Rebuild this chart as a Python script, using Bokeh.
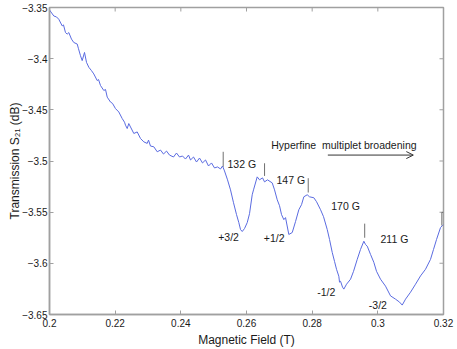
from bokeh.plotting import figure
from bokeh.models import Range1d, FixedTicker, Arrow, OpenHead, ColumnDataSource
from bokeh.core.properties import value
from bokeh.embed import file_html
from bokeh.resources import INLINE

# ---- data: measured transmission vs magnetic field ----
field_T = [0.2000, 0.20131, 0.20213, 0.20283, 0.20387, 0.20426, 0.20487, 0.20539, 0.20588, 0.20670,
           0.20740, 0.20844, 0.20883, 0.20944, 0.20996, 0.21066, 0.21127, 0.21197, 0.21279, 0.21349,
           0.21453, 0.21493, 0.21553, 0.21654, 0.21706, 0.21758, 0.21858, 0.21919, 0.22010, 0.22111,
           0.22214, 0.22285, 0.22315, 0.22367, 0.22415, 0.22467, 0.22568, 0.22671, 0.22772, 0.22872,
           0.22976, 0.23016, 0.23076, 0.23177, 0.23281, 0.23381, 0.23472, 0.23564, 0.23655, 0.23777,
           0.23868, 0.23960, 0.24051, 0.24142, 0.24234, 0.24295, 0.24386, 0.24478, 0.24569, 0.24660,
           0.24752, 0.24843, 0.24934, 0.25026, 0.25117, 0.25209, 0.25270, 0.25330, 0.25422, 0.25513,
           0.25605, 0.25696, 0.25766, 0.25818, 0.25870, 0.25940, 0.26022, 0.26092, 0.26174, 0.26214,
           0.26326, 0.26396, 0.26488, 0.26549, 0.26640, 0.26783, 0.26854, 0.26936, 0.27006, 0.27067,
           0.27137, 0.27189, 0.27289, 0.27393, 0.27493, 0.27594, 0.27676, 0.27746, 0.27849, 0.27920,
           0.28051, 0.28133, 0.28255, 0.28346, 0.28459, 0.28529, 0.28611, 0.28681, 0.28742, 0.28812,
           0.28833, 0.28864, 0.28925, 0.28964, 0.29047, 0.29169, 0.29260, 0.29373, 0.29473, 0.29574,
           0.29625, 0.29677, 0.29778, 0.29878, 0.29960, 0.30082, 0.30234, 0.30387, 0.30539, 0.30661,
           0.30743, 0.30844, 0.30996, 0.31148, 0.31300, 0.31452, 0.31605, 0.31696, 0.31788, 0.31910,
           0.31970, 0.32000]
s21_dB = [-3.3524, -3.3583, -3.3592, -3.3615, -3.3680, -3.3670, -3.3745, -3.3760, -3.3745, -3.3809,
          -3.3842, -3.3857, -3.3903, -3.3971, -3.4019, -3.3939, -3.4036, -3.4084, -3.4117, -3.4149,
          -3.4214, -3.4204, -3.4262, -3.4311, -3.4301, -3.4376, -3.4424, -3.4437, -3.4488, -3.4521,
          -3.4585, -3.4621, -3.4650, -3.4683, -3.4634, -3.4667, -3.4731, -3.4716, -3.4780, -3.4813,
          -3.4828, -3.4796, -3.4854, -3.4861, -3.4910, -3.4893, -3.4932, -3.4903, -3.4942, -3.4961,
          -3.4922, -3.4961, -3.4951, -3.4981, -3.4942, -3.4990, -3.4961, -3.5010, -3.4971, -3.5019,
          -3.4990, -3.5049, -3.5019, -3.5068, -3.5058, -3.5078, -3.5049, -3.5097, -3.5184, -3.5282,
          -3.5408, -3.5524, -3.5602, -3.5670, -3.5689, -3.5660, -3.5602, -3.5515, -3.5330, -3.5282,
          -3.5155, -3.5184, -3.5165, -3.5204, -3.5184, -3.5214, -3.5282, -3.5379, -3.5437, -3.5524,
          -3.5573, -3.5553, -3.5718, -3.5699, -3.5592, -3.5476, -3.5427, -3.5350, -3.5330, -3.5350,
          -3.5359, -3.5398, -3.5476, -3.5544, -3.5670, -3.5767, -3.5893, -3.5981, -3.6058, -3.6126,
          -3.6184, -3.6175, -3.6233, -3.6252, -3.6204, -3.6155, -3.6078, -3.5961, -3.5864, -3.5784,
          -3.5816, -3.5832, -3.5913, -3.5990, -3.6078, -3.6155, -3.6223, -3.6318, -3.6350, -3.6379,
          -3.6408, -3.6350, -3.6282, -3.6204, -3.6123, -3.6058, -3.5961, -3.5864, -3.5767, -3.5650,
          -3.5631, -3.5621]

# peak markers (short vertical bars above the peaks, plus end bracket)
mark_x0 = [0.2529, 0.2655, 0.2788, 0.2960, 0.3195, 0.3195]
mark_x1 = [0.2529, 0.2655, 0.2788, 0.2960, 0.3195, 0.3200]
mark_y0 = [-3.4910, -3.5022, -3.5168, -3.5612, -3.5502, -3.5502]
mark_y1 = [-3.5056, -3.5146, -3.5308, -3.5750, -3.5631, -3.5502]

# annotations
ann_text = ["132 G", "147 G", "170 G", "211 G", "+3/2", "+1/2", "-1/2", "-3/2",
            "Hyperfine\u00a0 multiplet broadening"]
ann_x = [0.25422, 0.26914, 0.28581, 0.30082, 0.25139, 0.26528, 0.28154, 0.29726, 0.26753]
ann_y = [-3.5029, -3.5185, -3.5444, -3.5762, -3.5738, -3.5757, -3.6282, -3.6408, -3.4845]

arrow_x = [0.28477, 0.31081]
arrow_y = [-3.4942, -3.4942]

x_ticks = [0.2, 0.22, 0.24, 0.26, 0.28, 0.3, 0.32]
x_tick_labels = ["0.2", "0.22", "0.24", "0.26", "0.28", "0.3", "0.32"]
y_ticks = [-3.65, -3.6, -3.55, -3.5, -3.45, -3.4, -3.35]
y_tick_labels = ["\u22123.65", "\u22123.6", "\u22123.55", "\u22123.5", "\u22123.45", "\u22123.4", "\u22123.35"]

x_min, x_max = 0.2, 0.32
y_min, y_max = -3.65, -3.35

FONT = "Liberation Sans"
AXIS_COLOR = "#a0a0a0"

p = figure(width=457, height=349, output_backend="svg", toolbar_location=None,
           x_range=Range1d(x_min, x_max), y_range=Range1d(y_min, y_max),
           min_border_left=49, min_border_right=14, min_border_top=7, min_border_bottom=33)
p.grid.visible = False
p.outline_line_color = AXIS_COLOR
p.outline_line_width = 1.5
p.background_fill_color = "white"
p.border_fill_color = "white"

# inward ticks on top and right frame edges (half of each mark is clipped by the frame)
p.rect(x=x_ticks, y=[y_max] * len(x_ticks), width=1, height=8,
       width_units="screen", height_units="screen", fill_color=AXIS_COLOR, line_color=None)
p.rect(x=[x_max] * len(y_ticks), y=y_ticks, width=8, height=1,
       width_units="screen", height_units="screen", fill_color=AXIS_COLOR, line_color=None)

p.line(field_T, s21_dB, line_color="#5a6be0", line_width=1)

p.segment(x0=mark_x0, y0=mark_y0, x1=mark_x1, y1=mark_y1, line_color="#707070", line_width=1)

src = ColumnDataSource(dict(x=ann_x, y=ann_y, text=ann_text))
p.text(x="x", y="y", text="text", source=src, text_font=value(FONT), text_font_size="10.5px",
       text_align="left", text_baseline="middle", text_color="#1a1a1a")

p.add_layout(Arrow(end=OpenHead(size=7, line_width=1, line_color="#333333"),
                   x_start=arrow_x[0], y_start=arrow_y[0], x_end=arrow_x[1], y_end=arrow_y[1],
                   line_color="#333333", line_width=1))

def style(ax, ticks, labels, label_standoff, title_standoff):
    ax.ticker = FixedTicker(ticks=ticks)
    ax.major_label_overrides = dict(zip(ticks, labels))
    ax.minor_tick_line_color = None
    ax.major_tick_in = 4
    ax.major_tick_out = 0
    ax.major_tick_line_color = AXIS_COLOR
    ax.axis_line_color = AXIS_COLOR
    ax.axis_line_width = 1.5
    ax.major_label_text_font = FONT
    ax.major_label_text_color = "#1a1a1a"
    ax.major_label_text_font_size = "10px"
    ax.major_label_standoff = label_standoff
    ax.axis_label_text_font = FONT
    ax.axis_label_text_font_size = "12px"
    ax.axis_label_text_font_style = "normal"
    ax.axis_label_text_color = "#1a1a1a"
    ax.axis_label_standoff = title_standoff

style(p.xaxis[0], x_ticks, x_tick_labels, 4, 3)
style(p.yaxis[0], y_ticks, y_tick_labels, 2, -3)
p.xaxis[0].axis_label = "Magnetic Field (T)"
p.yaxis[0].axis_label = "Transmission S\u2082\u2081 (dB)"

open("out.html", "w").write(file_html(p, INLINE))
